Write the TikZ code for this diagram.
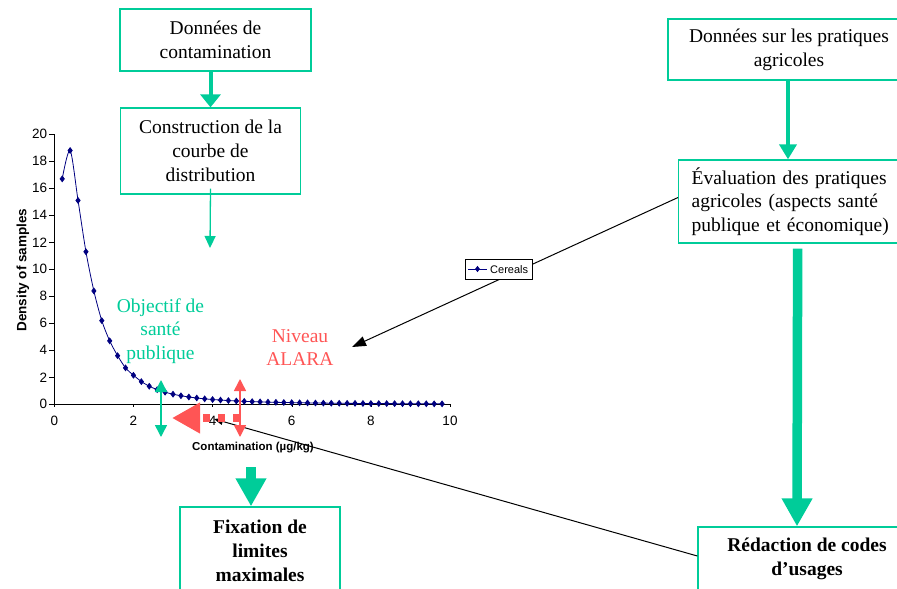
\documentclass[tikz,border=0pt]{standalone}
\usepackage{fontspec}
\setmainfont{Liberation Serif}
\setsansfont{Liberation Sans}
\usepackage{tikz}
\usetikzlibrary{arrows.meta,plotmarks}

\definecolor{vert}{RGB}{0,204,153}
\definecolor{rouge}{RGB}{255,85,85}
\definecolor{marine}{RGB}{0,0,128}

\tikzset{
  boite/.style={draw=vert, line width=1.3pt, align=center, inner sep=0pt,
    font=\fontsize{19.5}{23.7}\selectfont},
  gras/.style={font=\fontsize{19.5}{24}\selectfont\bfseries},
  fleche/.style={vert, line width=4pt, -{Triangle[length=13pt,width=20pt]}},
  grossefleche/.style={vert, line width=9.5pt, -{Triangle[length=28pt,width=29pt]}},
  fine/.style={vert, line width=1.3pt, -{Triangle[length=12pt,width=11pt]}},
  noire/.style={black, line width=1pt, -{Triangle[length=14pt,width=10pt]}},
  double/.style={line width=1.5pt, {Triangle[length=12pt,width=12pt]}-{Triangle[length=12pt,width=12pt]}},
  graduation/.style={font=\fontsize{13.5}{15}\sffamily},
}

\begin{document}
\begin{tikzpicture}[x=1pt,y=-1pt]
\clip (0,0) rectangle (897,589);

% graphique
\begin{scope}[shift={(54.3,404.3)},x=39.57pt,y=13.5pt]
\draw (0,0) -- (0,20);
\draw (0,0) -- (10,0);
\foreach \y in {0,2,...,20}
  \draw (0,\y) -- ++(-5pt,0) node[left, graduation, inner sep=2pt] {\y};
\foreach \x in {0,2,...,10}
  \draw (\x,0) -- ++(0,-3pt) node[below, graduation, inner sep=5pt, yshift=-4pt] {\x};
\draw[marine, line width=0.8pt]
  plot[smooth, mark=diamond*, mark size=2.8pt] coordinates {(0.2,16.7) (0.4,18.8)
    (0.6,15.1) (0.8,11.3) (1.0,8.4) (1.2,6.2) (1.4,4.7) (1.6,3.6) (1.8,2.7) (2.0,2.15)}
  -- plot[smooth, mark=diamond*, mark size=2.8pt, domain=2.2:9.8, samples=39]
    (\x,{2.15*(2/\x)^2.6});
\end{scope}
\node[rotate=90, font=\fontsize{13.5}{15}\sffamily\bfseries] (ylabel) at (23,270) {Density of samples};
\node[font=\fontsize{11.5}{13}\sffamily\bfseries] (xlabel) at (253,448) {Contamination (µg/kg)};

% boites
\node[boite, minimum width=191pt, minimum height=62pt] (contam) at (215.5,40) {Données de\\contamination};
\node[boite, minimum width=180pt, minimum height=86pt] (courbe) at (210.5,151) {Construction de la\\courbe de\\distribution};
\node[boite, minimum width=242pt, minimum height=61pt] (pratiques) at (789,49.5) {Données sur les pratiques\\agricoles};
\node[boite, anchor=west, minimum height=83pt, inner xsep=13pt, text width=206pt, align=left] (evaluation) at (678,201.5)
  {Évaluation des pratiques\\agricoles (aspects santé\\publique et économique)};
\node[boite, gras, minimum width=218pt, minimum height=64pt] (codes) at (807,559) {Rédaction de codes\\d’usages};
\node[boite, gras, minimum width=160pt, minimum height=88pt] (limites) at (260,551) {Fixation de\\limites\\maximales};

\node[vert, align=center, font=\fontsize{19.5}{23.5}\selectfont] (objectif) at (160.5,331) {Objectif de\\santé\\publique};
\node[rouge, align=center, font=\fontsize{19.5}{23}\selectfont] (alara) at (300,348) {Niveau\\ALARA};

\coordinate (distrib) at (210,248);
\coordinate (alaratip) at (352,347);
\coordinate (pointe) at (214,419);
\coordinate (fixdebut) at (251,467);
\coordinate (objhaut) at (161,380);
\coordinate (objbas) at (161,437);
\coordinate (alarahaut) at (240,379);
\coordinate (alarabas) at (240,437);
\coordinate (tiret) at (240,418);
\coordinate (gauche) at (172,418);

% fleches
\draw[fleche] (courbe.north |- contam.south) -- (courbe.north);
\draw[fine] ([yshift=6pt]courbe.south) -- (distrib);
\draw[fleche, line width=4pt, -{Triangle[length=15pt,width=17pt]}] ([xshift=-1pt]pratiques.south) -- ([xshift=-1pt]pratiques.south |- evaluation.north);
\draw[grossefleche] ([xshift=3pt,yshift=-5pt]evaluation.south) -- ([xshift=-10pt]codes.north);
\draw[grossefleche] (fixdebut) -- ([xshift=-9pt]limites.north);
\draw[noire] ([yshift=4pt]evaluation.west) -- (alaratip);
\draw[noire, -{Triangle[length=9pt,width=7pt]}] ([yshift=3pt]codes.west) -- (pointe);
\draw[double, vert] (objhaut) -- (objbas);
\draw[double, rouge] (alarahaut) -- (alarabas);
\draw[rouge, line width=8pt, dash pattern=on 7.5pt off 7.5pt, -{Triangle[length=28pt,width=29pt]}] (tiret) -- (gauche);

% legende
\draw[fill=white, line width=0.8pt] (465,259) rectangle (532,279);
\draw[marine, line width=0.8pt] (468,269) -- (487,269);
\draw[marine] plot[only marks, mark=diamond*, mark size=2.8pt] coordinates {(477.5,269)};
\node[anchor=west, inner sep=0pt, font=\fontsize{11}{13}\sffamily] (cereals) at (490,269.5) {Cereals};
\end{tikzpicture}
\end{document}
